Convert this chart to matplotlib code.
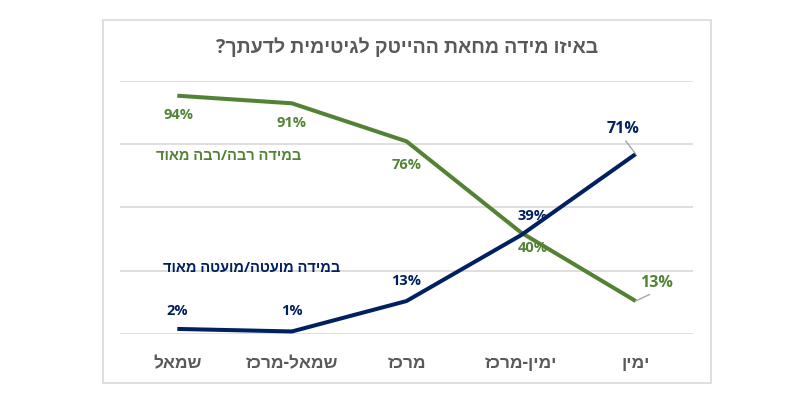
import matplotlib
matplotlib.use('Agg')
import matplotlib.pyplot as plt
from matplotlib.patches import Rectangle

plt.rcParams['font.family'] = ['Open Sans', 'Liberation Sans', 'DejaVu Sans']

# data
categories = ['שמאל', 'שמאל-מרכז', 'מרכז', 'ימין-מרכז', 'ימין']
high = [94, 91, 76, 40, 13]   # במידה רבה/רבה מאוד
low = [2, 1, 13, 39, 71]      # במידה מועטה/מועטה מאוד
title = 'באיזו מידה מחאת ההייטק לגיטימית לדעתך?'
high_name = 'במידה רבה/רבה מאוד'
low_name = 'במידה מועטה/מועטה מאוד'

def rtl(s):
    # matplotlib has no bidi, so flip the hebrew to visual order
    return s[::-1]

green = '#548235'
navy = '#002060'
grey = '#595959'
grid = '#d9d9d9'

fig = plt.figure(figsize=(8.06, 4.16), dpi=100)
fig.patches.append(Rectangle((103/806, 33/416), 608/806, 363/416,
                             transform=fig.transFigure, fill=False,
                             edgecolor=grid, lw=1.2))
ax = fig.add_axes([120/806, 82/416, 573/806, 253.5/416])

x = list(range(len(categories)))
ax.plot(x, high, color=green, lw=2.9, solid_capstyle='butt', zorder=3)
ax.plot(x, low, color=navy, lw=2.9, solid_capstyle='butt', zorder=3)

ax.set_xlim(-0.5, 4.5)
ax.set_ylim(0, 100)
ax.set_yticks([0, 25, 50, 75, 100])
ax.yaxis.grid(True, color=grid, lw=1.2)
ax.set_axisbelow(True)
ax.tick_params(left=False, labelleft=False, bottom=False)
for s in ax.spines.values():
    s.set_visible(False)
ax.set_xticks(x)
ax.set_xticklabels([rtl(c) for c in categories], fontsize=12.5,
                   fontweight='bold', color=grey)
ax.tick_params(axis='x', pad=11)

# value labels (offsets in pixels)
high_off = [(1, -19), (0, -20), (0, -24), (12, -15), (21, 18)]
low_off = [(0, 18), (0, 20), (0, 20), (11, 19), (-13, 25)]
leader = dict(arrowstyle='-', color='#a6a6a6', lw=1, relpos=(0.5, 0),
              shrinkA=1, shrinkB=0)
for i in x:
    last = i == len(x) - 1
    dx, dy = high_off[i]
    kw = dict(arrowprops=leader) if last else {}
    ax.annotate(f'{high[i]}%', (i, high[i]), xytext=(dx, dy),
                textcoords='offset pixels', ha='center', va='center',
                fontsize=11.5 if last else 10.5, fontweight='bold',
                color=green, **kw)
    dx, dy = low_off[i]
    ax.annotate(f'{low[i]}%', (i, low[i]), xytext=(dx, dy),
                textcoords='offset pixels', ha='center', va='center',
                fontsize=11.5 if last else 10.5, fontweight='bold',
                color=navy, **kw)

ax.text(0.445, 70.2, rtl(high_name), ha='center', va='center',
        fontsize=10.5, fontweight='bold', color=green)
ax.text(0.65, 26, rtl(low_name), ha='center', va='center',
        fontsize=10.5, fontweight='bold', color=navy)

fig.text(407/806, 1 - 48/416, rtl(title), ha='center', va='center',
         fontsize=14, fontweight='bold', color=grey)

fig.savefig('out.png', dpi=100, facecolor='white')
